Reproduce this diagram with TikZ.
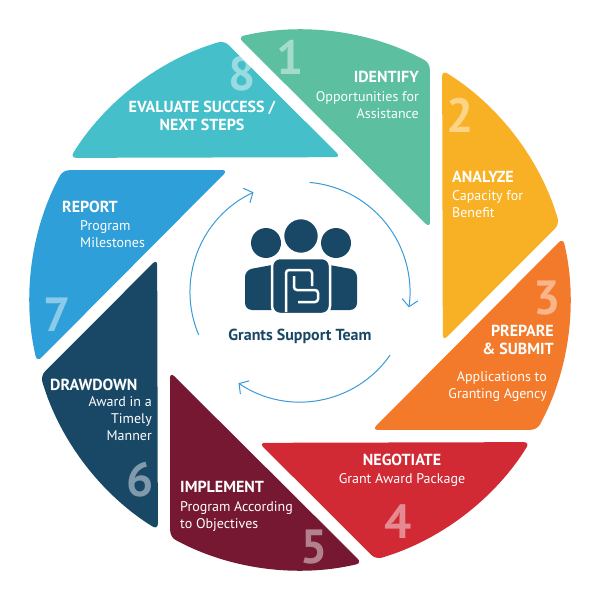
\documentclass[tikz,border=0pt]{standalone}
\usepackage{fontspec}
\setmainfont{PT Sans}
\usetikzlibrary{arrows.meta}
\definecolor{colg}{HTML}{5BBFA0}
\definecolor{coly}{HTML}{F8B124}
\definecolor{colo}{HTML}{F37A2A}
\definecolor{colr}{HTML}{D12A35}
\definecolor{colm}{HTML}{761831}
\definecolor{coln}{HTML}{194866}
\definecolor{colb}{HTML}{2E9FD8}
\definecolor{colt}{HTML}{45BFC9}
\definecolor{cola}{HTML}{3A9AD9}
\tikzset{
  blade/.style={rounded corners=6pt},
  num/.style={text=white,text opacity=0.45,font=\fontsize{48}{48}\selectfont\bfseries,inner sep=0pt},
  ttl/.style={text=white,font=\fontsize{16}{18}\selectfont\bfseries,inner sep=0pt},
  sub/.style={text=white,font=\fontsize{14}{17}\selectfont,inner sep=0pt},
  cyc/.style={draw=cola,line width=1pt,-{Straight Barb[length=7pt,width=16pt,line width=1pt]}}
}
\begin{document}
\begin{tikzpicture}[x=1pt,y=-1pt]
\useasboundingbox (0,0) rectangle (600,591);
\foreach \k/\c in {0/colg,1/coly,2/colo,3/colr,4/colm,5/coln,6/colb,7/colt}{
  \begin{scope}[shift={(300,300)},rotate=-45*\k]
    \fill[\c,blade] (-62,-263) arc[start angle=-103.3,end angle=-61.3,radius=270] -- (130,-72) -- cycle;
  \end{scope}
}
% numbers
\node[num] (n1) at (290,57) {1};
\node[num] (n2) at (460,115) {2};
\node[num] (n3) at (547,298) {3};
\node[num] (n4) at (398,522) {4};
\node[num] (n5) at (314,547) {5};
\node[num] (n6) at (140,480) {6};
\node[num] (n7) at (57,315) {7};
\node[num] (n8) at (242,74) {8};
% texts
\node[ttl,anchor=east] (t1) at (419,77) {IDENTIFY};
\node[sub,anchor=north east,align=right] (s1) at (419,91) {Opportunities for\\Assistance};
\node[ttl,anchor=west] (t2) at (452,177) {ANALYZE};
\node[sub,anchor=north west,align=left] (s2) at (452,190) {Capacity for\\Benefit};
\node[ttl,anchor=north east,align=right] (t3) at (554,325) {PREPARE\\\& SUBMIT};
\node[sub,anchor=north east,align=right] (s3) at (547,371) {Applications to\\Granting Agency};
\node[ttl] (t4) at (402,460) {NEGOTIATE};
\node[sub] (s4) at (402,480) {Grant Award Package};
\node[ttl,anchor=west] (t5) at (180,487) {IMPLEMENT};
\node[sub,anchor=north west,align=left] (s5) at (180,501) {Program According\\to Objectives};
\node[ttl,anchor=west] (t6) at (50,385) {DRAWDOWN};
\node[sub,anchor=north east,align=right] (s6) at (152,396) {Award in a\\Timely\\Manner};
\node[ttl,anchor=west] (t7) at (62,207) {REPORT};
\node[sub,anchor=north west,align=left] (s7) at (80,220) {Program\\Milestones};
\node[ttl,align=center,anchor=north] (t8) at (202,101) {EVALUATE SUCCESS /\\NEXT STEPS};
% cycle arrows
\coordinate (cc) at (300,292);
\draw[cyc] (cc) ++(-85:110) arc[start angle=-85,end angle=8,radius=110];
\draw[cyc] (cc) ++(35:110) arc[start angle=35,end angle=124,radius=110];
\draw[cyc] (cc) ++(157:110) arc[start angle=157,end angle=245,radius=110];
% team icon
\fill[coln] (266,243) circle (15);
\fill[coln] (336,243) circle (15);
\fill[coln,rounded corners=7pt] (245,310) -- (245,270) -- (288,262) -- (288,310) -- cycle;
\fill[coln,rounded corners=7pt] (313,310) -- (313,262) -- (357,270) -- (357,310) -- cycle;
\filldraw[fill=coln,draw=white,line width=2.5pt] (301,236) circle (18);
\filldraw[fill=coln,draw=white,line width=2.5pt,rounded corners=8pt] (272,314) -- (272,258) -- (330,258) -- (330,314) -- cycle;
\draw[white,line width=2.5pt,rounded corners=3pt] (286,312) -- (286,270) -- (312,270) -- (312,286);
\draw[white,line width=2.5pt,rounded corners=3pt] (294,276) -- (294,290) -- (318,290) -- (318,302) -- (298,302);
\node[text=coln,font=\fontsize{16}{18}\selectfont\bfseries] (team) at (300,336) {Grants Support Team};
\end{tikzpicture}
\end{document}
